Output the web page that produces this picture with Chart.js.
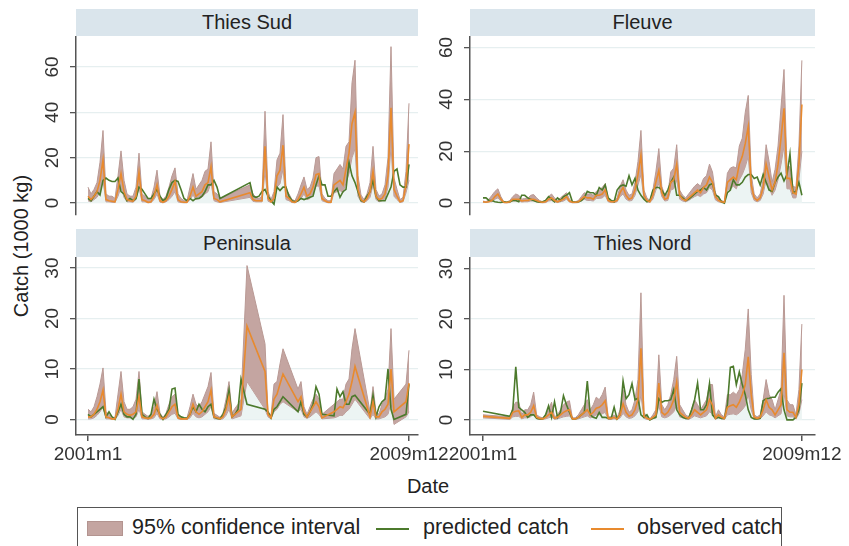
<!DOCTYPE html>
<html>
<head>
<meta charset="utf-8">
<title>Catch by region</title>
<script src="https://cdn.jsdelivr.net/npm/chart.js@4.4.0/dist/chart.umd.min.js"></script>
<style>
  body { margin: 0; background: #fff; width: 849px; height: 546px; overflow: hidden; position: relative;
         font-family: "Liberation Sans", Arial, sans-serif; color: #222; }
  canvas { position: absolute; }
  .hdr { position: absolute; background: #dae5ec; text-align: center; font-size: 20px; }
  .title { position: absolute; font-size: 20px; white-space: nowrap; }
  #legend { position: absolute; left: 77px; top: 507px; width: 703px; height: 60px; border: 1px solid #555;
            overflow: hidden; font-size: 21.5px; }
  #legend span, #legend i { position: absolute; white-space: nowrap; }
</style>
</head>
<body>

<div class="hdr" style="left:76px;top:9px;width:342px;height:27px;line-height:27px">Thies Sud</div>
<div class="hdr" style="left:470px;top:9px;width:345px;height:27px;line-height:27px">Fleuve</div>
<div class="hdr" style="left:76px;top:229px;width:342px;height:28px;line-height:28px">Peninsula</div>
<div class="hdr" style="left:470px;top:229px;width:345px;height:28px;line-height:28px">Thies Nord</div>

<canvas id="c1" width="380" height="180" style="left:40px;top:36px"></canvas>
<canvas id="c2" width="383" height="180" style="left:434px;top:36px"></canvas>
<canvas id="c3" width="412" height="205" style="left:40px;top:257px"></canvas>
<canvas id="c4" width="415" height="205" style="left:434px;top:257px"></canvas>

<div class="title" style="left:21px;top:246px;transform:translate(-50%,-50%) rotate(-90deg)">Catch (1000 kg)</div>
<div class="title" style="left:428px;top:486px;transform:translate(-50%,-50%)">Date</div>

<div id="legend">
  <i style="left:9px;top:13px;width:34px;height:13px;background:#c4a5a1;border:1px solid #b39490"></i>
  <span style="left:54px;top:7px">95% confidence interval</span>
  <i style="left:298px;top:20px;width:33px;height:2px;background:#4c7a2c"></i>
  <span style="left:345px;top:7px">predicted catch</span>
  <i style="left:513px;top:20px;width:33px;height:2px;background:#e88a2e"></i>
  <span style="left:559px;top:7px">observed catch</span>
</div>

<script>
// months counted from 2001m1 (index 0) to 2009m12 (index 107); N = no observation
const N = null;
const xTickPos = [0, 107];
const xTickLabels = ['2001m1', '2009m12'];
const yTicksTop = [0, 20, 40, 60];
const yTicksBottom = [0, 10, 20, 30];

// Thies Sud
const thiesSudObs = [
  3, 1.5, 3, 5, 10, 19, 1.5, 1, 0.8, 0.5, 6, 13,
  5, 1.5, 1, 0.8, 3, 13.5, 1.5, 1, 0.3, 0.5, 3, 8,
  1, 0.3, 1, 3, 6, 9.5, 1.5, 0.5, 0.3, 0.3, 3, 7,
  3, 4, 5, 8, 9, 16, 2, 1.5, 0.5, N, N, N,
  N, N, N, N, N, N, 4.5, 1.5, 1, 1, 1, 25,
  2, 0.5, 2, 12, 14.5, 25.5, 3, 2, 0.5, 0.3, 1.5, 4,
  7, 3, 4, 7, 12.5, 13, 2, 1, 0.3, 0.3, 8, 9,
  10, 8, 15, 22, 35, 40, 6, 1.5, 0.5, 2, 5, 14,
  3, 1.5, 2, 4, 12, 42, 6, 3, 0.5, 1, 8, 26
];
const thiesSudPred = [
  2, 1, 3, 5, 3.5, 10, 11, 10, 9.5, 9.5, 11, 5,
  4, 1, 2, 1, 2, 7, 6, 4, 2, 2, 4, 6,
  3, 1, 2, 6, 9, 10, 9.5, 6, 2, 1, 2, 1,
  2, 2, 3, 5, 8, 8, 10, 7, 2, N, N, N,
  N, N, N, N, N, N, 9, 3, 2.5, 3, 5, 6,
  3, 1, -0.5, 7, 5.5, 7, 7, 3, 1, 0.5, 1, 2,
  1.5, 2, 2.5, 3, 8, 12, 8, 8, 3, 3, 5, 6.5,
  2.5, 5, 6, 18, 12, 9, 5, 1, 0.5, 3, 5, 10,
  3, 1, 1, 1, 4, 7, 14, 15, 8, 7, 7, 17
];
const thiesSudHi = [
  7, 4, 6, 9, 18, 32, 4, 3, 3, 2, 12, 23,
  10, 4, 3, 3, 7, 22, 4, 3, 1.5, 2, 7, 14.5,
  3, 1.5, 3, 7, 12, 15.5, 4, 2, 1, 1, 7, 13,
  6, 8, 10, 14, 15, 27, 5, 4, 2, N, N, N,
  N, N, N, N, N, N, 8, 4, 2.5, 2, 3, 40.5,
  5, 1.5, 5, 19, 22, 39, 6, 4, 1.5, 1, 4, 8,
  11.5, 6, 7, 11, 20, 20.5, 4, 2, 1, 1, 13, 15,
  17, 15, 25, 27, 53, 63, 12, 3.5, 1.5, 4, 9, 25,
  6, 3, 4, 8, 20, 69, 11, 6, 1.5, 2.5, 14, 44
];
const thiesSudLo = [
  1, 0.5, 1.5, 2.5, 5, 10, 0.5, 0.5, 0.3, 0.2, 3, 7,
  2.5, 0.5, 0.5, 0.3, 1.5, 7, 0.5, 0.5, 0.1, 0.2, 1.5, 4,
  0.3, 0.1, 0.5, 1.5, 3, 5, 0.5, 0.2, 0.1, 0.1, 1.5, 3.5,
  1.5, 2, 2.5, 4, 5, 9, 1, 0.5, 0.2, N, N, N,
  N, N, N, N, N, N, 2.5, 0.7, 0.5, 0.5, 0.5, 14,
  0.8, 0.2, 1, 7, 8.5, 15, 1.5, 1, 0.2, 0.1, 0.8, 2,
  4, 1.5, 2, 4, 7.5, 7.5, 1, 0.5, 0.1, 0.1, 4.5, 5,
  5.5, 4.5, 9, 13, 20, 24, 3, 0.5, 0.2, 1, 2.5, 8,
  1.5, 0.5, 1, 2, 7, 25, 3, 1.5, 0.2, 0.5, 4.5, 10
];

// Fleuve
const fleuveObs = [
  0.5, 0.3, 0.5, 1, 2.5, 3.5, 1.5, 0.3, 0.2, 0.5, 1.5, 1.5,
  1.5, 0.8, 1, 1, 1.5, 1.5, 1, 0.5, 0.3, 0.5, 1.5, 2,
  1, 0.5, 1, 1.5, 2.5, 0.8, 0.3, 0.3, 0.5, 1.5, 2.5, 2,
  2, 1.5, 3, 3, 3.5, 5, 1, 0.5, 0.5, 1, 4, 6,
  3, 1.5, 2, 5, 11, 18.5, 3, 1, 0.5, 3, 8, 12.5,
  4, 1.5, 2, 8, 9, 15, 3, 1.5, 1, 2, 3, 4,
  5, 4, 6, 7, 10, 8, 2.5, 1, 0.5, 0.3, 8, 9,
  10, 9, 15, 18, 23, 29.5, 7, 2, 1, 2, 6, 15,
  10, 5, 8, 15, 25, 36.5, 9.5, 9.5, 4, 3.5, 15, 38
];
const fleuvePred = [
  2, 2, 1, 1, 0.5, 0.3, 0.2, 0.5, 0.3, 0.5, 1, 1,
  0.5, 3, 3, 2, 1.5, 1, 0.5, 0.3, 0.5, 1, 2.5, 1.5,
  0.5, 2, 1, 2.5, 3, 4, 0.5, 0.3, 0.5, 1, 2, 4.5,
  4, 4, 3, 6, 5, 7, 2, 1, 0.5, 5, 6.5, 7,
  6.5, 10.5, 7, 9.5, 5, 3, 1.5, 0.5, 1, 5, 6, 6,
  5, 3, 5, 8, 10, 3, 3, 2, 1, 1.5, 2.5, 3.5,
  4.5, 5, 6, 5, 7, 7.5, 3, 2.5, 0.5, 0, 4, 5,
  9, 7, 7, 8, 10, 11, 11, 9.5, 10, 7, 11, 8,
  5, 4.5, 8, 10, 11.5, 8.5, 11, 19, 4, 4.5, 8, 3
];
const fleuveHi = [
  0.8, 0.5, 1.5, 3, 4.5, 5.5, 2.5, 0.5, 0.4, 1, 2.5, 3.5,
  3, 1.5, 1.8, 1.8, 3, 3.3, 2, 1, 0.5, 1, 2.5, 3.5,
  2, 1, 2, 3, 4, 1.5, 0.5, 0.5, 1, 2.5, 4, 3.5,
  3.5, 3, 4.5, 5, 6, 7.5, 2, 1, 1, 2, 6.5, 9,
  5, 3, 3.5, 8, 16, 28, 5, 2, 1, 5, 12, 21,
  6.5, 3, 3.5, 12, 13.5, 22.5, 5, 3, 2, 3.5, 5, 6.5,
  7.5, 6.5, 9.5, 10.5, 15, 12, 4, 2, 1, 0.5, 11.5, 13.5,
  14, 13.5, 22, 25, 35, 41.5, 11, 3.5, 2, 3.5, 9, 22.5,
  16, 8, 13, 22, 37, 51.5, 14, 14, 6.5, 6, 22, 55
];
const fleuveLo = [
  0.3, 0.2, 0.5, 0.5, 1.5, 2, 0.8, 0.1, 0.1, 0.2, 0.8, 0.8,
  0.8, 0.4, 0.5, 0.5, 0.8, 0.8, 0.5, 0.2, 0.1, 0.2, 0.8, 1,
  0.5, 0.2, 0.5, 0.8, 1.5, 0.4, 0.1, 0.1, 0.2, 0.8, 1.5, 1,
  1, 0.8, 1.8, 1.8, 2, 3, 0.5, 0.2, 0.2, 0.5, 2.5, 3.5,
  1.5, 0.8, 1, 3, 7, 11, 1.5, 0.5, 0.2, 1.5, 5, 7.5,
  2.5, 0.8, 1, 5, 5.5, 9, 1.5, 0.8, 0.5, 1, 1.8, 2.5,
  3, 2.5, 3.5, 4, 6, 5, 1.2, 0.5, 0.2, 0.1, 5, 5.5,
  6.5, 5.5, 9, 11, 14, 18, 4, 1, 0.5, 1, 3.5, 9,
  6, 3, 5, 9, 15, 22, 5.5, 5.5, 2, 2, 9, 20
];

// Peninsula
const peninsulaObs = [
  0.5, 0.5, 1, 2, 3.5, 5.8, 0.5, 0.3, 0.1, 0.1, 2, 5,
  1.5, 1, 0.8, 1, 1.5, 4.5, 0.5, 0.3, 0.2, 0.3, 1, 2.8,
  0.5, 0.1, 0.5, 1.5, 2.5, 3, 0.3, 0.1, 0.1, 0.1, 1, 3,
  1.5, 1, 1.5, 2.5, 3.5, 5.8, 0.5, 0.3, 0.1, 0.5, 2, 4.5,
  0.5, 1, 1.5, 2, N, 18.5, N, N, N, N, N, 9.5,
  1, 0.3, 4, 5, 7, 9, N, N, N, N, 3.5, 4.5,
  1.5, 0.5, 1.5, 2.5, 3.5, 2.5, 0.3, N, N, N, 1.5, 2,
  2.5, 2.3, 3.5, 5, 7.5, 10.5, N, N, N, N, 0.5, 3.5,
  0.5, 0.5, 1.5, 2, 3, 10, 1.5, N, N, N, 3.5, 7.2
];
const peninsulaPred = [
  1, 0.5, 1, 1.5, 2, 2.5, 0.5, 1.5, 0.5, 0, 1.5, 3,
  1, 0.5, 0.5, 0, 1, 8, 1, 0.5, 0.2, 1, 4, 2,
  1, 0, 1, 2, 6, 6.2, 1, 0.5, 0.3, 0.2, 1, 2.5,
  1.5, 3, 2, 1.5, 2.5, 3, 0.5, 0.2, 0.1, 1, 2.5, 5.8,
  0.5, 1, 2, 8, N, 3, N, N, N, N, N, 2,
  1.5, 0.3, 2, 2.5, 3.5, 4.5, N, N, N, N, 1.5, 3.5,
  1, 0.5, 1.5, 3, 6.5, 5, 1, N, N, N, 0.7, 6,
  4.5, 5.5, 3, 3, 4.5, 4.8, N, N, N, N, 1, 4.8,
  0.5, 2.5, 3.5, 4, 10, 2, 0, N, N, N, 1, 7
];
const peninsulaHi = [
  2, 1.5, 2.5, 4.5, 7, 10.2, 1.5, 1, 0.4, 0.4, 5, 9.5,
  3.5, 2, 2, 2.5, 4, 9.5, 1.5, 1, 0.6, 1, 2.5, 5.5,
  1.2, 0.4, 1.2, 3, 4.5, 5, 0.8, 0.4, 0.3, 0.3, 2.5, 5,
  3, 2.5, 3.5, 5, 6.5, 9.3, 1.2, 0.8, 0.4, 1.2, 4, 7.5,
  1.2, 2.2, 3, 4, N, 30.5, N, N, N, N, N, 15,
  1.5, 0.8, 7, 7.5, 11, 14, N, N, N, N, 6, 7.5,
  2.5, 1, 2.5, 4, 5, 4, 1, N, N, N, 3, 3.5,
  4, 4, 7, 8, 14, 18, N, N, N, N, 1.5, 6.5,
  1.5, 1, 3, 4, 6, 18, 4, N, N, N, 7, 13.7
];
const peninsulaLo = [
  0.1, 0.1, 0.3, 0.8, 1.5, 2.5, 0.1, 0.1, 0, 0, 0.8, 2,
  0.5, 0.3, 0.3, 0.3, 0.5, 2, 0.1, 0.1, 0, 0.1, 0.3, 1.2,
  0.1, 0, 0.1, 0.5, 1, 1.2, 0.1, 0, 0, 0, 0.3, 1.2,
  0.5, 0.3, 0.5, 1, 1.5, 2.5, 0.1, 0.1, 0, 0.1, 0.8, 2,
  0.1, 0.3, 0.5, 0.7, N, 7.5, N, N, N, N, N, 2,
  0.5, 0.1, 1.5, 2, 3, 3.5, N, N, N, N, 1.5, 2,
  0.5, 0.2, 0.5, 1, 1.5, 1, 0.1, N, N, N, 0.3, 0.5,
  0.8, 0.8, 1.5, 2, 3, 4, N, N, N, N, 0.1, 1,
  0.1, 0.1, 0.3, 0.5, 1, 3.5, -1, N, N, N, 0.5, 1.5
];

// Thies Nord
const thiesNordObs = [
  0.7, N, N, N, N, N, N, N, N, 0.3, 1.5, 1.7,
  1.8, 0.5, 1, 1, 1.5, 2.8, 0.5, 0.3, 0.2, 0.5, 1, 1.5,
  0.3, 0.5, 1, 1.5, 1.8, 2, 0.2, 0.2, 0.5, 1, 1.5, 2,
  1, 1.5, 2.3, 2.5, 3, 3.8, 0.3, 0.3, 0.5, 0.2, 1, 3.2,
  1.5, 0.7, 1, 2, 4, 14.2, 0.7, 0.3, 0.1, 0.5, 1, 7.3,
  1.5, 1, 1.5, 2.5, 4, 7.5, 1.5, 1, 0.5, 0.3, 1, 2,
  1.5, 1, 1.5, 2, 4, 3, 0.3, 1, 0.5, 0.3, 2.5, 2.8,
  3, 2.5, 3.5, 5, 7, 12.5, 5, 0.5, 0.3, 0.5, 2, 4,
  2.5, 2, 1, 2, 3, 13.3, 2, 1.5, 1.5, 0.5, 3, 10
];
const thiesNordPred = [
  1.7, N, N, N, N, N, N, N, N, 0.7, 2, 10.5,
  2.5, 2, 1.5, 0.5, 1, 1, 0.3, 0.2, 0.2, 1, 2.8, 0.5,
  3.6, 0.5, 1.5, 4.8, 3, 1.5, 0.2, 0.2, 0.5, 1, 1.5, 7.7,
  1, 0.5, 0.3, 1.5, 0.5, 0.5, 0.3, 0.3, 2.5, 0.2, 1, 7.7,
  4.2, 5, 7.2, 4, 4.3, 1, 0.5, 1, 0, 0.3, 0.5, 4.2,
  3.5, 3.8, 3.8, 4, 6, 2, 1, 0.5, 0.3, 0.3, 2, 4,
  7.3, 2, 2, 3, 7.2, 1, 0.3, 0.5, 0.3, 0.3, 3, 10.4,
  10.6, 7, 9.5, 7, 5, 2, 0.5, 0.2, 0.2, 0.3, 3.8, 4.2,
  4.3, 4.5, 4.5, 5.5, 6.2, 2, 0, 0, 0, 0.5, 2, 7.3
];
const thiesNordHi = [
  1, N, N, N, N, N, N, N, N, 0.6, 2.5, 3.5,
  3.5, 1, 2, 2, 3, 5.5, 1, 0.6, 0.4, 1, 2, 3.5,
  0.6, 1, 2, 3, 3.5, 3.8, 0.4, 0.4, 1, 2, 3, 4,
  2, 3, 4.5, 4, 5, 6.5, 0.6, 0.6, 1, 0.4, 2, 6,
  3, 1.5, 2, 4, 8, 25.2, 1.5, 0.6, 0.2, 1, 2, 12.9,
  3, 2, 3, 5, 8, 12.6, 3, 2, 1, 0.6, 2, 4,
  3, 2, 3, 4, 7, 7, 0.6, 2, 1, 0.6, 5, 5,
  5.5, 5, 6, 9, 14, 22, 9, 1, 0.6, 1, 4, 8,
  5, 4, 2, 4, 6, 24.7, 4, 3, 3, 1, 6, 19
];
const thiesNordLo = [
  0.4, N, N, N, N, N, N, N, N, 0.1, 0.6, 0.7,
  0.7, 0.2, 0.4, 0.4, 0.6, 1.2, 0.2, 0.1, 0.1, 0.2, 0.4, 0.6,
  0.1, 0.2, 0.4, 0.6, 0.7, 0.8, 0.1, 0.1, 0.2, 0.4, 0.6, 0.8,
  0.4, 0.6, 1, 1, 1.2, 1.5, 0.1, 0.1, 0.2, 0.1, 0.4, 1.3,
  0.6, 0.3, 0.4, 0.8, 1.6, 5, 0.3, 0.1, 0, 0.2, 0.4, 2.8,
  0.6, 0.4, 0.6, 1, 1.6, 3, 0.6, 0.4, 0.2, 0.1, 0.4, 0.8,
  0.6, 0.4, 0.6, 0.8, 1.6, 1.2, 0.1, 0.4, 0.2, 0.1, 1, 1.1,
  1.2, 1, 1.4, 2, 2.8, 5, 2, 0.2, 0.1, 0.2, 0.8, 1.6,
  1, 0.8, 0.4, 0.8, 1.2, 5.5, 0.8, 0.6, 0.6, 0.2, 1.2, 4
];

const FONT = '"Liberation Sans", Arial, sans-serif';
const GREEN = '#4c7a2c';
const ORANGE = '#e88a2e';
const BAND = '#c4a5a1';
const BAND_EDGE = '#b99994';
const LIGHT = '#ecf4f3';
const AXIS = '#555';

[thiesSudObs, thiesSudPred, thiesSudHi, thiesSudLo, fleuveObs, fleuvePred, fleuveHi, fleuveLo,
 peninsulaObs, peninsulaPred, peninsulaHi, peninsulaLo, thiesNordObs, thiesNordPred, thiesNordHi, thiesNordLo]
  .forEach((a, i) => { if (a.length !== 108) throw new Error('array ' + i + ' has ' + a.length); });

// month index -> {x, y}, dropping months without data so lines run straight across gaps
function pts(arr) {
  return arr.map((v, i) => v === null ? null : { x: i, y: v }).filter(p => p);
}

// vertical tick labels, like the original
const yLabels = {
  id: 'yLabels',
  afterDraw(chart) {
    const s = chart.scales.y;
    const ctx = chart.ctx;
    ctx.save();
    ctx.font = '19px ' + FONT;
    ctx.fillStyle = '#333';
    ctx.textAlign = 'center';
    ctx.textBaseline = 'middle';
    s.ticks.forEach(t => {
      ctx.save();
      ctx.translate(chart.chartArea.left - 23, s.getPixelForValue(t.value));
      ctx.rotate(-Math.PI / 2);
      ctx.fillText(String(t.value), 0, 0);
      ctx.restore();
    });
    ctx.restore();
  }
};

function panel(id, obs, pred, hi, lo, opt) {
  new Chart(document.getElementById(id), {
    type: 'line',
    data: {
      datasets: [
        { label: 'observed catch', data: pts(obs), borderColor: ORANGE, borderWidth: 1.6, fill: false },
        { label: 'predicted catch', data: pts(pred), borderColor: GREEN, borderWidth: 1.6, fill: false },
        { label: 'upper', data: pts(hi), borderColor: BAND_EDGE, borderWidth: 1, backgroundColor: BAND, fill: '+1' },
        { label: 'lower', data: pts(lo), borderColor: BAND_EDGE, borderWidth: 1, backgroundColor: LIGHT, fill: 'origin' }
      ]
    },
    options: {
      responsive: false,
      animation: false,
      parsing: false,
      elements: { point: { radius: 0 }, line: { tension: 0 } },
      layout: { padding: { left: 0, right: opt.padRight, top: 0, bottom: opt.padBottom } },
      plugins: { legend: { display: false }, tooltip: { enabled: false } },
      scales: {
        x: {
          type: 'linear',
          min: opt.xMin,
          max: opt.xMax,
          display: opt.showX,
          afterBuildTicks: s => { s.ticks = xTickPos.map(v => ({ value: v })); },
          afterFit: s => { s.height = opt.showX ? 27 : 0; },
          ticks: {
            autoSkip: false, maxRotation: 0, padding: 2, color: '#333',
            font: { family: FONT, size: 19 },
            callback: (v, i) => xTickLabels[i]
          },
          grid: { drawOnChartArea: false, tickLength: 6, tickColor: AXIS, lineWidth: 1.5 },
          border: { display: true, color: AXIS, width: 1.5 }
        },
        y: {
          type: 'linear',
          min: opt.yMin,
          max: opt.yMax,
          afterBuildTicks: s => { s.ticks = opt.yTicks.map(v => ({ value: v })); },
          afterFit: s => { s.width = 36; },
          ticks: { display: false },
          grid: { color: '#e6eff0', lineWidth: 1.3, tickLength: 6, tickColor: AXIS },
          border: { display: true, color: AXIS, width: 1.5 }
        }
      }
    },
    plugins: [yLabels]
  });
}

const leftX = { xMin: -4, xMax: 110 };
const rightX = { xMin: -4.36, xMax: 111.4 };

panel('c1', thiesSudObs, thiesSudPred, thiesSudHi, thiesSudLo,
  Object.assign({ showX: false, yMin: -5.3, yMax: 73.7, yTicks: yTicksTop, padRight: 2, padBottom: 1 }, leftX));
panel('c2', fleuveObs, fleuvePred, fleuveHi, fleuveLo,
  Object.assign({ showX: false, yMin: -4.6, yMax: 64.4, yTicks: yTicksTop, padRight: 2, padBottom: 1 }, rightX));
panel('c3', peninsulaObs, peninsulaPred, peninsulaHi, peninsulaLo,
  Object.assign({ showX: true, yMin: -3.1, yMax: 32.2, yTicks: yTicksBottom, padRight: 34, padBottom: 0 }, leftX));
panel('c4', thiesNordObs, thiesNordPred, thiesNordHi, thiesNordLo,
  Object.assign({ showX: true, yMin: -3, yMax: 32.3, yTicks: yTicksBottom, padRight: 34, padBottom: 0 }, rightX));
</script>
</body>
</html>
